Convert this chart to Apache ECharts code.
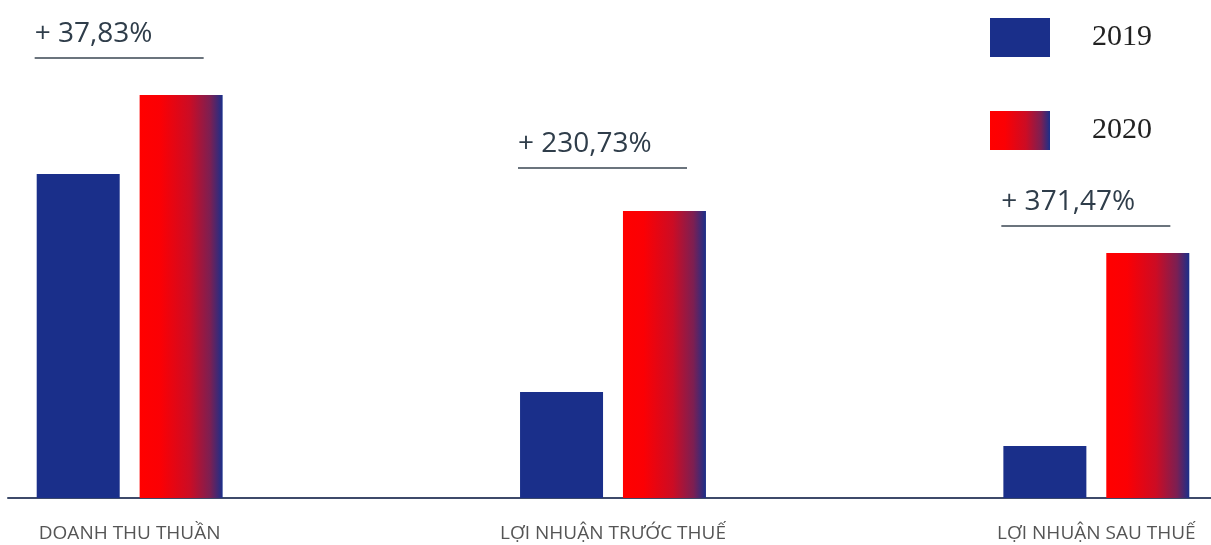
<!DOCTYPE html>
<html><head><meta charset="utf-8">
<script src="https://cdn.jsdelivr.net/npm/echarts@6/dist/echarts.min.js"></script>
<style>html,body{margin:0;padding:0;background:#fff}#c{width:1211px;height:545px}</style>
</head><body><div id="c"></div>
<script>
const categories = ['DOANH THU THUẦN', 'LỢI NHUẬN TRƯỚC THUẾ', 'LỢI NHUẬN SAU THUẾ'];
const seriesNames = ['2019', '2020'];
const values2019 = [324, 106, 52];
const values2020 = [403, 287, 245];
const growthLabels = ['+ 37,83%', '+ 230,73%', '+ 371,47%'];
const growthLevels = [440, 330, 272];

const blue = '#1a2f8a';
const grad = new echarts.graphic.LinearGradient(0, 0, 1, 0, [
  {offset: 0, color: '#ff0000'},
  {offset: 0.25, color: '#fb0004'},
  {offset: 0.6, color: '#cc0c24'},
  {offset: 0.85, color: '#7c1f52'},
  {offset: 1, color: '#1a2f8a'}
]);

const chart = echarts.init(document.getElementById('c'), null, {renderer: 'canvas'});
chart.setOption({
  animation: false,
  backgroundColor: '#fff',
  legend: {
    orient: 'vertical', left: 990, top: 18, padding: 0,
    itemWidth: 60, itemHeight: 39, itemGap: 54,
    icon: 'rect',
    textStyle: {fontFamily: 'Liberation Serif', fontSize: 30, color: '#222', padding: [0, 0, 0, 37]},
    data: seriesNames
  },
  grid: [
    {left: -112, width: 1450, top: 0, bottom: 47, containLabel: false, outerBoundsMode: 'none'},
    {left: 8, right: 0, top: 0, bottom: 47, containLabel: false, outerBoundsMode: 'none'}
  ],
  xAxis: [
    {type: 'category', data: categories, gridIndex: 0,
     axisLine: {show: false}, axisTick: {show: false},
     axisLabel: {margin: 26, fontFamily: 'Open Sans', fontSize: 19, color: '#555'}},
    {type: 'category', data: [''], gridIndex: 1,
     axisLine: {show: true, lineStyle: {color: '#3d4a6a', width: 2}},
     axisTick: {show: false}, axisLabel: {show: false}}
  ],
  yAxis: [
    {type: 'value', min: 0, max: 498, gridIndex: 0, show: false, splitLine: {show: false}},
    {type: 'value', min: 0, max: 498, gridIndex: 1, show: false, splitLine: {show: false}}
  ],
  series: [
    {name: '2019', type: 'bar', data: values2019, barWidth: 83, barGap: '24%', itemStyle: {color: blue}},
    {name: '2020', type: 'bar', data: values2020, barWidth: 83, barGap: '24%', itemStyle: {color: grad}},
    {type: 'custom', data: growthLevels.map((v, i) => [i, v, growthLabels[i]]),
     renderItem: function(params, api) {
       const p = api.coord([api.value(0), api.value(1)]);
       const x0 = p[0] - 95;
       return {type: 'group', children: [
         {type: 'line', shape: {x1: x0, y1: p[1], x2: x0 + 169, y2: p[1]},
          style: {stroke: '#3a4652', lineWidth: 1.5}},
         {type: 'text', style: {x: x0, y: p[1] - 10, text: growthLabels[params.dataIndex],
           font: '28px "Open Sans"', fill: '#2f3d4a', verticalAlign: 'bottom'}}
       ]};
     }}
  ]
});
</script></body></html>
